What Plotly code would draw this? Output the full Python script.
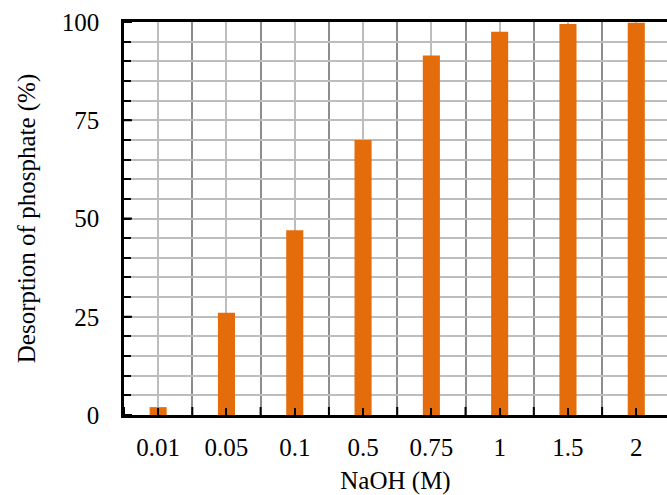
import plotly.graph_objects as go

# NaOH concentration (M) and phosphate desorption (%)
naoh_labels = ["0.01", "0.05", "0.1", "0.5", "0.75", "1", "1.5", "2"]
desorption = [2, 26, 47, 70, 91.5, 97.5, 99.5, 99.8]
y_major = [0, 25, 50, 75, 100]
y_fine = list(range(0, 101, 5))

positions = list(range(len(naoh_labels)))
boundaries = [p - 0.5 for p in positions]
x_range = [-0.5, len(naoh_labels) - 0.55]

FONT = "Liberation Serif"
SIZE = 25
BAR = "#E46C0A"
GRID_MAJOR = "#8c8c8c"
GRID_MINOR = "#bdbdbd"
GRID_W = 2
TICK_HALF = 8  # half-length (px) of the ticks that cross the axis lines

fig = go.Figure(
    go.Bar(
        x=positions,
        y=desorption,
        width=0.25,
        marker=dict(color=BAR, line=dict(width=0)),
        hovertemplate="%{text} M: %{y}%<extra></extra>",
        text=naoh_labels,
        textposition="none",
    )
)

# crossing tick marks at the category boundaries and at the major y values
tick_style = dict(type="line", line=dict(color="black", width=2), layer="above")
for b in boundaries:
    fig.add_shape(
        xref="x", yref="y", x0=b, x1=b,
        ysizemode="pixel", yanchor=0, y0=-TICK_HALF, y1=TICK_HALF,
        **tick_style,
    )
for v in y_major:
    fig.add_shape(
        xref="x", yref="y", y0=v, y1=v,
        xsizemode="pixel", xanchor=x_range[0], x0=-TICK_HALF, x1=TICK_HALF,
        **tick_style,
    )

fig.update_layout(
    width=667,
    height=495,
    margin=dict(l=124, r=0, t=22, b=80),
    paper_bgcolor="white",
    plot_bgcolor="white",
    showlegend=False,
    font=dict(family=FONT, size=SIZE, color="black"),
    # category centres carry the labels and light grid; boundaries get the dark grid
    xaxis=dict(
        range=x_range,
        tickmode="array",
        tickvals=positions,
        ticktext=naoh_labels,
        ticks="inside",
        ticklen=7,
        tickwidth=2,
        tickcolor="black",
        showgrid=True,
        gridcolor=GRID_MINOR,
        gridwidth=GRID_W,
        minor=dict(
            tickmode="array",
            tickvals=boundaries,
            ticks="",
            showgrid=True,
            gridcolor=GRID_MAJOR,
            gridwidth=GRID_W,
        ),
        showline=True,
        linecolor="black",
        linewidth=2.5,
        mirror=True,
        zeroline=False,
        ticklabelstandoff=8,
        tickfont=dict(family=FONT, size=SIZE),
        title=dict(text="NaOH (M)", font=dict(family=FONT, size=SIZE), standoff=16),
    ),
    # every 5 %: light grid and short inward ticks; labels only every 25 %
    yaxis=dict(
        range=[0, 100],
        tickmode="array",
        tickvals=y_fine,
        ticktext=[str(v) if v in y_major else "" for v in y_fine],
        ticks="inside",
        ticklen=7,
        tickwidth=2,
        tickcolor="black",
        showgrid=True,
        gridcolor=GRID_MINOR,
        gridwidth=GRID_W,
        minor=dict(
            tickmode="array",
            tickvals=y_major,
            ticks="",
            showgrid=True,
            gridcolor=GRID_MAJOR,
            gridwidth=GRID_W,
        ),
        showline=True,
        linecolor="black",
        linewidth=2.5,
        zeroline=False,
        ticklabelstandoff=17,
        tickfont=dict(family=FONT, size=SIZE),
        title=dict(text="Desorption of phosphate (%)", font=dict(family=FONT, size=SIZE), standoff=20),
    ),
)

fig.write_html("out.html")
